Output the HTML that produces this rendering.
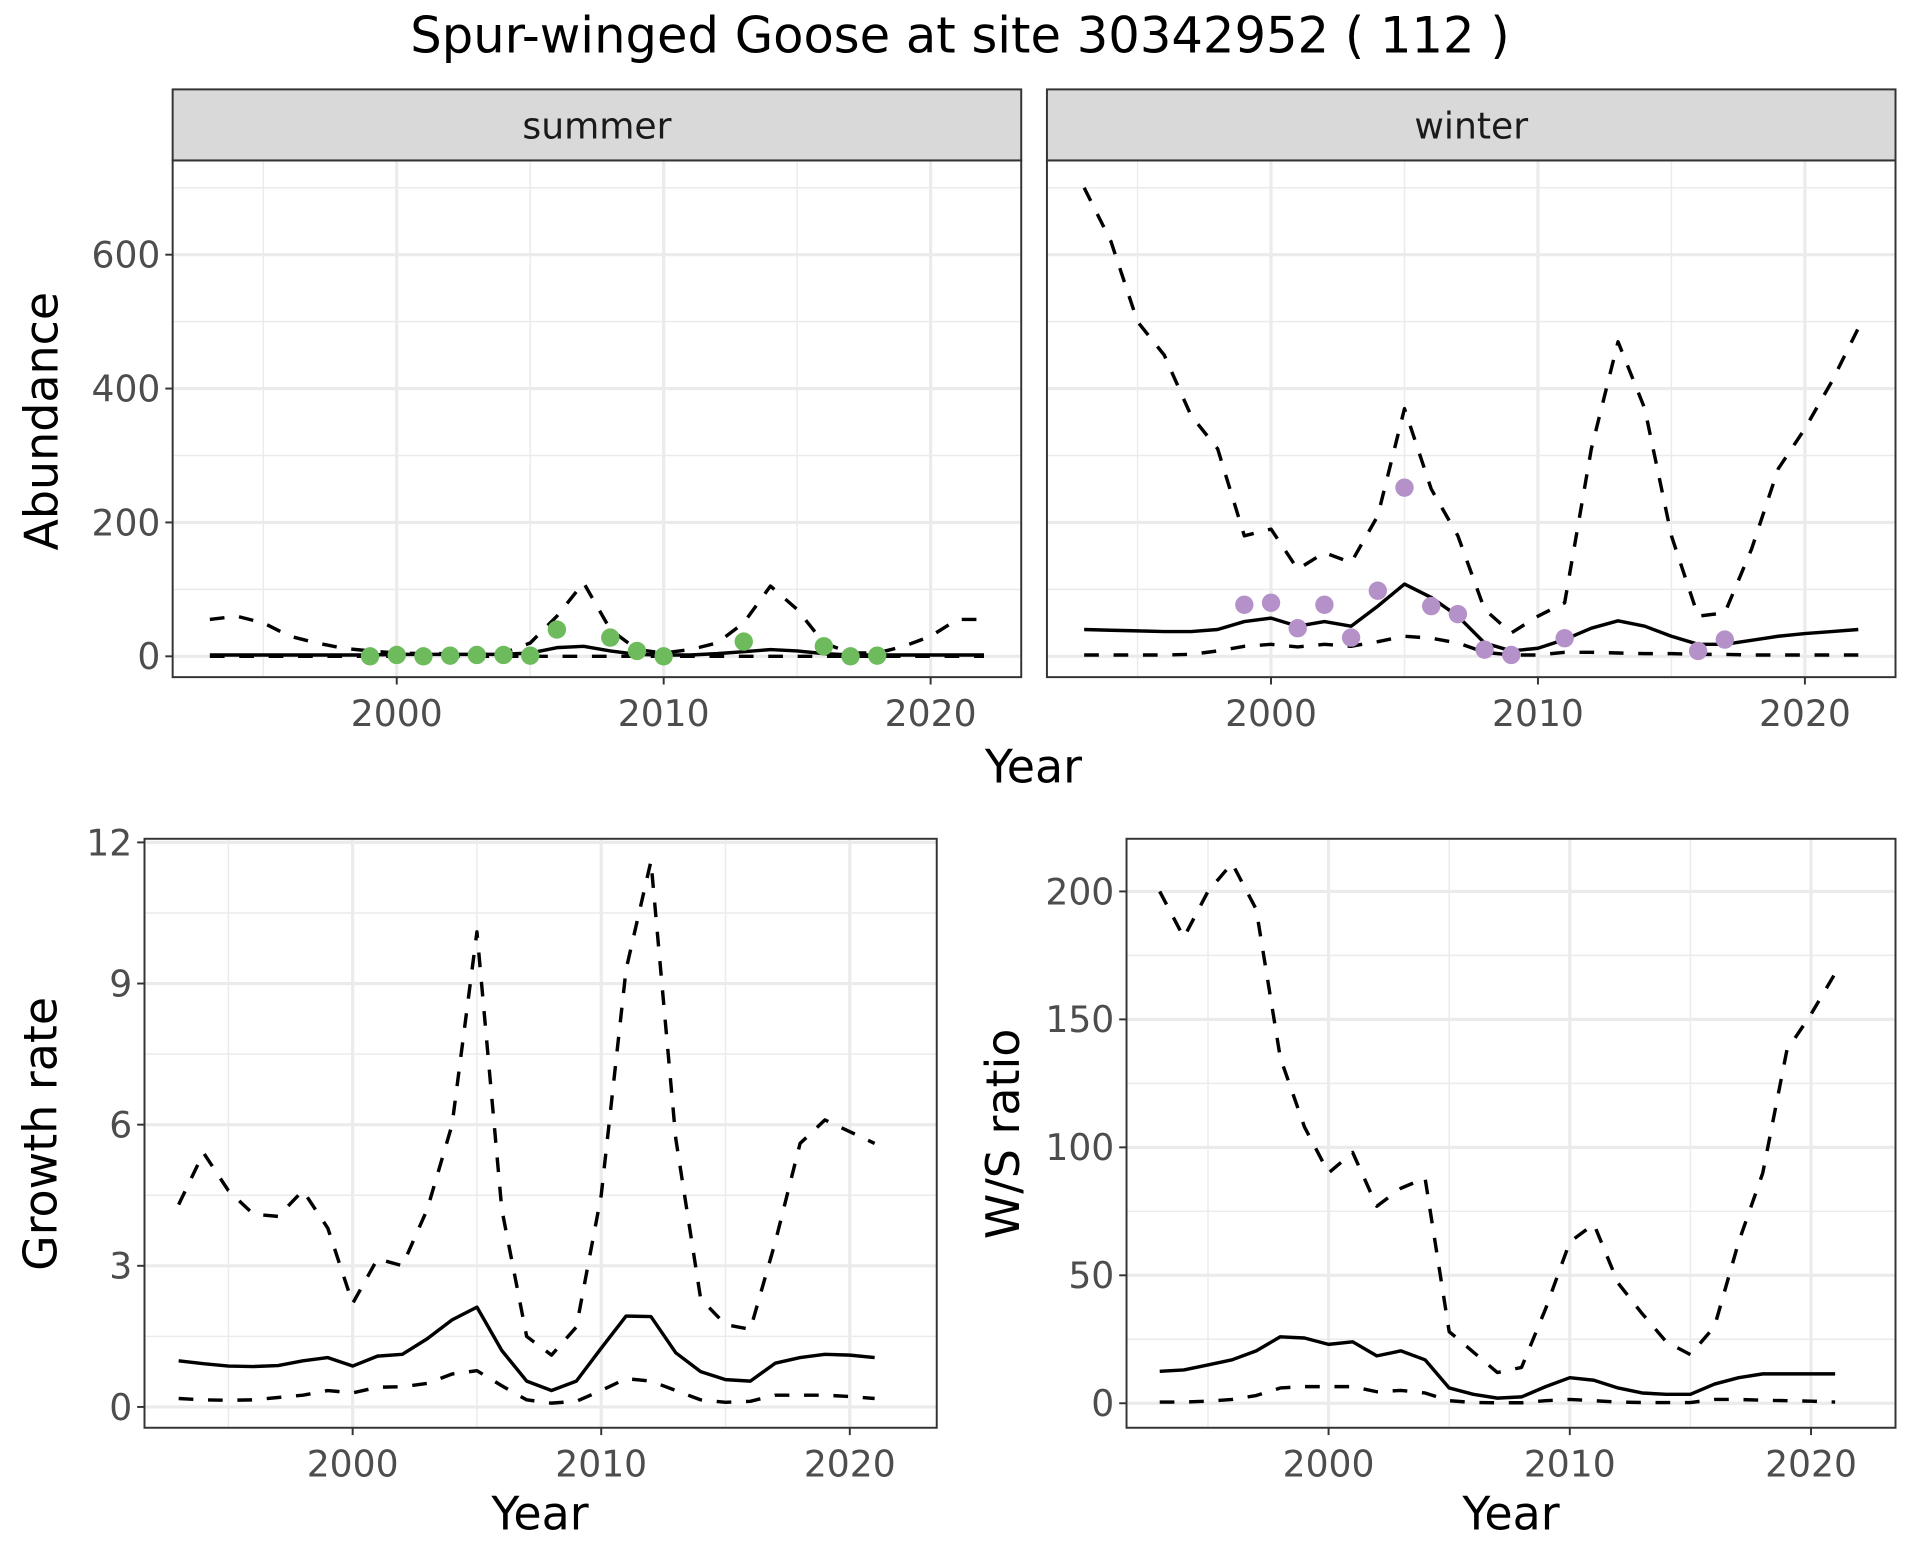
<!DOCTYPE html>
<html><head><meta charset="utf-8"><style>
html,body{margin:0;padding:0;background:#fff;}
svg{display:block;}
text{font-family:"DejaVu Sans","Liberation Sans",sans-serif;}
</style></head><body>
<svg id="s" width="1920" height="1560" viewBox="0 0 1568 1274" xmlns="http://www.w3.org/2000/svg">
<rect width="1568" height="1274" fill="#fff"/>
<text x="784" y="43" font-size="40.5" text-anchor="middle" fill="#000">Spur-winged Goose at site 30342952 ( 112 )</text>
</svg>
<script>
var S=document.getElementById('s'),NS='http://www.w3.org/2000/svg';
function el(t,a,txt){var e=document.createElementNS(NS,t);for(var k in a)e.setAttribute(k,a[k]);if(txt!==undefined)e.textContent=txt;S.appendChild(e);return e;}
var TF=29.5;
function panel(o){
 el('rect',{x:o.x0,y:o.y0,width:o.x1-o.x0,height:o.y1-o.y0,fill:'#fff'});
 o.ymin.forEach(function(v){var y=o.fy(v);el('line',{x1:o.x0,x2:o.x1,y1:y,y2:y,stroke:'#ebebeb','stroke-width':1.2});});
 o.xmin.forEach(function(v){var x=o.fx(v);el('line',{x1:x,x2:x,y1:o.y0,y2:o.y1,stroke:'#ebebeb','stroke-width':1.2});});
 o.ymaj.forEach(function(v){var y=o.fy(v);el('line',{x1:o.x0,x2:o.x1,y1:y,y2:y,stroke:'#ebebeb','stroke-width':2.6});});
 o.xmaj.forEach(function(v){var x=o.fx(v);el('line',{x1:x,x2:x,y1:o.y0,y2:o.y1,stroke:'#ebebeb','stroke-width':2.6});});
 el('rect',{x:o.x0,y:o.y0,width:o.x1-o.x0,height:o.y1-o.y0,fill:'none',stroke:'#333','stroke-width':1.6});
 o.xmaj.forEach(function(v){var x=o.fx(v);el('line',{x1:x,x2:x,y1:o.y1,y2:o.y1+6,stroke:'#333','stroke-width':1.6});
  el('text',{x:x,y:o.y1+40,'font-size':TF,'text-anchor':'middle',fill:'#4d4d4d'},String(v));});
 if(o.showY)o.ymaj.forEach(function(v){var y=o.fy(v);el('line',{x1:o.x0-6,x2:o.x0,y1:y,y2:y,stroke:'#333','stroke-width':1.6});
  el('text',{x:o.x0-10,y:y+10.5,'font-size':TF,'text-anchor':'end',fill:'#4d4d4d'},String(v));});
}
function line(o,x0,vals,dash){var p=vals.map(function(v,i){return o.fx(x0+i).toFixed(1)+','+o.fy(v).toFixed(1);}).join(' ');
 var a={points:p,fill:'none',stroke:'#000','stroke-width':2.8,'stroke-linejoin':'round'};if(dash)a['stroke-dasharray']='12,12';el('polyline',a);}
function pts(o,arr,c){arr.forEach(function(d){el('circle',{cx:o.fx(d[0]),cy:o.fy(d[1]),r:7.5,fill:c});});}

var fyA=function(v){return 536-v*0.5467;};
var sum={x0:141,x1:834,y0:131,y1:553,fx:function(y){return 324+(y-2000)*21.8;},fy:fyA,xmaj:[2000,2010,2020],xmin:[1995,2005,2015],ymaj:[0,200,400,600],ymin:[100,300,500,700],showY:true};
var win={x0:855,x1:1548,y0:131,y1:553,fx:function(y){return 1038+(y-2000)*21.8;},fy:fyA,xmaj:[2000,2010,2020],xmin:[1995,2005,2015],ymaj:[0,200,400,600],ymin:[100,300,500,700],showY:false};
panel(sum);panel(win);
[[141,834,'summer'],[855,1548,'winter']].forEach(function(s){
 el('rect',{x:s[0],y:73,width:s[1]-s[0],height:58,fill:'#d9d9d9',stroke:'#333','stroke-width':1.6});
 el('text',{x:(s[0]+s[1])/2,y:113,'font-size':29.5,'text-anchor':'middle',fill:'#1a1a1a'},s[2]);});
line(sum,1993,[55,60,50,30,20,12,8,5,4,4,5,5,20,60,110,40,10,5,10,20,50,105,70,20,5,5,15,30,55,55],true);
line(sum,1993,[2,2,2,2,2,2,2,3,3,3,3,3,5,13,15,8,3,2,2,4,7,10,8,4,2,2,2,2,2,2],false);
line(sum,1993,[0,0,0,0,0,0,0,0,0,0,0,0,0,0,0,0,0,0,0,0,0,0,0,0,0,0,0,0,0,0],true);
pts(sum,[[1999,0],[2000,2],[2001,0],[2002,1],[2003,2],[2004,2],[2005,1],[2006,40],[2008,28],[2009,8],[2010,0],[2013,22],[2016,15],[2017,0],[2018,1]],'#6dbb5c');
line(win,1993,[700,620,500,450,360,310,180,190,130,155,140,210,370,250,180,70,35,60,80,310,470,370,180,60,65,160,280,340,410,490],true);
line(win,1993,[40,39,38,37,37,40,52,57,45,52,45,75,108,88,60,20,8,12,25,42,53,45,30,18,18,24,30,34,37,40],false);
line(win,1993,[2,2,2,2,3,8,15,18,14,18,15,22,30,27,20,6,2,2,6,6,5,4,4,3,3,2,2,2,2,2],true);
pts(win,[[1999,77],[2000,80],[2001,42],[2002,77],[2003,28],[2004,98],[2005,252],[2006,75],[2007,63],[2008,10],[2009,2],[2011,27],[2016,8],[2017,25]],'#b491c8');
el('text',{x:844,y:639,'font-size':37.5,'text-anchor':'middle',fill:'#000'},'Year');
el('text',{x:0,y:0,'font-size':37.5,'text-anchor':'middle',fill:'#000',transform:'translate(47,344) rotate(-90)'},'Abundance');

var gr={x0:118,x1:765,y0:685,y1:1166,fx:function(y){return 288+(y-2000)*20.3;},fy:function(v){return 1149-v*38.42;},xmaj:[2000,2010,2020],xmin:[1995,2005,2015],ymaj:[0,3,6,9,12],ymin:[1.5,4.5,7.5,10.5],showY:true};
panel(gr);
line(gr,1993,[4.3,5.4,4.6,4.1,4.05,4.6,3.8,2.2,3.15,3.0,4.2,6.0,10.1,4.2,1.5,1.1,1.7,4.5,9.3,11.6,5.7,2.3,1.75,1.65,3.5,5.6,6.1,5.85,5.6],true);
line(gr,1993,[0.98,0.92,0.87,0.86,0.88,0.98,1.05,0.87,1.08,1.12,1.45,1.85,2.12,1.2,0.55,0.35,0.55,1.25,1.93,1.92,1.15,0.75,0.58,0.55,0.93,1.05,1.12,1.1,1.05],false);
line(gr,1993,[0.18,0.15,0.14,0.15,0.2,0.25,0.35,0.3,0.42,0.43,0.5,0.7,0.77,0.45,0.15,0.08,0.12,0.35,0.6,0.55,0.35,0.15,0.1,0.12,0.25,0.25,0.25,0.22,0.18],true);
el('text',{x:441,y:1249,'font-size':37.5,'text-anchor':'middle',fill:'#000'},'Year');
el('text',{x:0,y:0,'font-size':37.5,'text-anchor':'middle',fill:'#000',transform:'translate(46,926) rotate(-90)'},'Growth rate');

var ws={x0:920,x1:1548,y0:685,y1:1166,fx:function(y){return 1085+(y-2000)*19.7;},fy:function(v){return 1146-v*2.09;},xmaj:[2000,2010,2020],xmin:[1995,2005,2015],ymaj:[0,50,100,150,200],ymin:[25,75,125,175],showY:true};
panel(ws);
line(ws,1993,[200,182,200,211,193,135,108,90,98,77,84,88,28,20,12,14,37,63,70,47,35,24,19,30,63,90,138,152,168],true);
line(ws,1993,[12.5,13,15,17,20.5,26,25.5,23,24,18.5,20.5,17,6,3.5,2,2.5,6.5,10,9,6,4,3.5,3.5,7.5,10,11.5,11.5,11.5,11.5],false);
line(ws,1993,[0.5,0.5,0.8,1.5,3,6,6.5,6.5,6.5,4.5,5,4,1,0.3,0.2,0.2,1,1.5,1,0.5,0.3,0.3,0.3,1.5,1.5,1.2,1,0.8,0.5],true);
el('text',{x:1234,y:1249,'font-size':37.5,'text-anchor':'middle',fill:'#000'},'Year');
el('text',{x:0,y:0,'font-size':37.5,'text-anchor':'middle',fill:'#000',transform:'translate(832,926) rotate(-90)'},'W/S ratio');
</script>
</body></html>
